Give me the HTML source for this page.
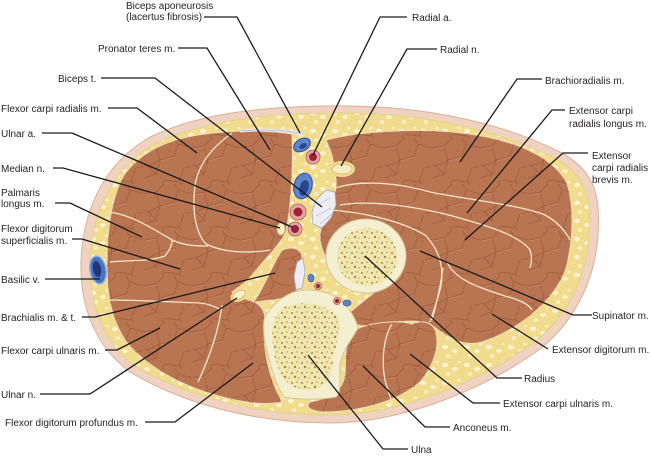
<!DOCTYPE html>
<html><head><meta charset="utf-8"><style>
html,body{margin:0;padding:0;background:#fff;}
svg{display:block;}
text{font-family:"Liberation Sans",sans-serif;font-size:10px;fill:#231f20;}
</style></head><body>
<svg width="650" height="456" viewBox="0 0 650 456" xmlns="http://www.w3.org/2000/svg">
<defs>
<pattern id="fat" width="22" height="18" patternUnits="userSpaceOnUse">
<rect width="22" height="18" fill="#f0dc8c"/>
<ellipse cx="5" cy="5" rx="3" ry="2.2" fill="#faf3d2"/>
<ellipse cx="15" cy="9" rx="2.8" ry="2" fill="#faf3d2"/>
<ellipse cx="8" cy="14" rx="2.2" ry="1.7" fill="#f8efc6"/>
<ellipse cx="19" cy="2" rx="1.8" ry="1.3" fill="#f8efc6"/>
</pattern>
<pattern id="mus" width="48" height="46" patternUnits="userSpaceOnUse">
<path d="M0 10 L12 8 L20 0 M12 8 L16 22 L4 28 L0 27 M16 22 L30 18 L34 6 L30 0 M34 6 L48 10 M30 18 L40 30 L48 28 M40 30 L35 44 L38 46 M35 44 L20 42 L18 46 M20 42 L12 36 L0 40 M12 36 L16 22 M4 28 L12 36" fill="none" stroke="#8a4a30" stroke-width="0.9" opacity="0.5"/>
<path d="M1 11 L13 9 M17 23 L31 19 M31 19 L41 31 M21 43 L13 37" fill="none" stroke="#d8997a" stroke-width="0.7" opacity="0.5"/>
</pattern>
<pattern id="mar" width="10" height="10" patternUnits="userSpaceOnUse">
<rect width="10" height="10" fill="#efe6b2"/>
<circle cx="2" cy="3" r="1.1" fill="#b89a3e"/>
<circle cx="7" cy="2" r="0.9" fill="#c9a94a"/>
<circle cx="5" cy="7" r="1.2" fill="#a98a35"/>
<circle cx="9" cy="8" r="0.8" fill="#c2a247"/>
</pattern>
</defs>

<!-- skin -->
<path d="M 325,106 C 420,104 500,122 560,152 C 598,172 600,200 598,235 C 595,282 572,330 527,358 C 482,388 404,423 330,423 C 250,423 180,402 130,372 C 92,344 80,302 81,262 C 83,202 110,160 150,137 C 200,113 262,107 325,106 Z" fill="#efd2c0" stroke="#d9b09a" stroke-width="1"/>
<!-- fat -->
<path d="M 325,113 C 418,111 496,129 554,158 C 590,177 591,203 589,235 C 586,279 565,325 521,351 C 478,380 402,415 330,415 C 252,415 184,395 135,366 C 100,339 89,300 90,262 C 92,206 117,166 154,144 C 203,121 263,114 325,113 Z" fill="url(#fat)" stroke="#e3cf86" stroke-width="0.8"/>

<!-- muscles -->
<g fill="#b97552" stroke="#f1ddb8" stroke-width="1">
<path d="M 205,134 C 235,130 268,130 292,134 C 293,165 292,200 286,232 C 280,245 262,262 248,280 L 232,292 L 248,300 C 258,302 264,308 265,318 C 262,340 266,372 282,402 C 262,406 238,402 212,394 C 178,384 147,366 129,345 C 112,324 107,296 107,265 C 107,232 111,198 124,175 C 142,150 172,138 205,134 Z"/>
<path d="M 326,140 C 360,131 420,128 462,133 C 512,139 552,155 567,183 C 576,212 572,255 562,278 C 548,305 518,330 482,342 C 462,348 445,335 430,324 C 418,320 405,321 395,322 C 380,324 370,328 358,325 C 348,323 342,322 340,321 C 350,312 362,302 375,292 L 340,270 C 326,262 320,250 320,235 C 322,218 330,205 334,195 C 338,185 336,172 333,160 C 331,150 328,145 326,140 Z"/>
<path d="M 357,329 C 372,322 398,320 412,324 C 424,319 434,323 436,333 C 440,348 432,368 420,382 C 402,398 370,410 330,412 C 312,412 304,408 310,402 C 330,398 342,392 345,375 L 346,350 C 348,340 352,334 357,329 Z"/>
<path d="M 282,250 C 292,246 300,248 302,256 L 300,286 C 296,294 286,298 274,300 C 266,300 260,302 254,302 C 262,290 270,272 276,260 Z"/>
</g>
<g fill="url(#mus)">
<path d="M 205,134 C 235,130 268,130 292,134 C 293,165 292,200 286,232 C 280,245 262,262 248,280 L 232,292 L 248,300 C 258,302 264,308 265,318 C 262,340 266,372 282,402 C 262,406 238,402 212,394 C 178,384 147,366 129,345 C 112,324 107,296 107,265 C 107,232 111,198 124,175 C 142,150 172,138 205,134 Z"/>
<path d="M 326,140 C 360,131 420,128 462,133 C 512,139 552,155 567,183 C 576,212 572,255 562,278 C 548,305 518,330 482,342 C 462,348 445,335 430,324 C 418,320 405,321 395,322 C 380,324 370,328 358,325 C 348,323 342,322 340,321 C 350,312 362,302 375,292 L 340,270 C 326,262 320,250 320,235 C 322,218 330,205 334,195 C 338,185 336,172 333,160 C 331,150 328,145 326,140 Z"/>
<path d="M 357,329 C 372,322 398,320 412,324 C 424,319 434,323 436,333 C 440,348 432,368 420,382 C 402,398 370,410 330,412 C 312,412 304,408 310,402 C 330,398 342,392 345,375 L 346,350 C 348,340 352,334 357,329 Z"/>
<path d="M 282,250 C 292,246 300,248 302,256 L 300,286 C 296,294 286,298 274,300 C 266,300 260,302 254,302 C 262,290 270,272 276,260 Z"/>
</g>

<!-- muscle separation lines -->
<g fill="none" stroke="#f4e6c6" stroke-width="1.3">
<path d="M 232,133 C 214,146 199,162 195,185 C 192,210 195,232 206,244 C 222,252 245,254 270,250"/>
<path d="M 108,212 C 130,214 152,228 172,240 C 185,246 198,246 208,246"/>
<path d="M 110,262 C 128,260 148,262 165,256 C 170,250 172,244 172,240"/>
<path d="M 110,300 C 135,300 170,302 200,303 C 210,304 215,307 222,310"/>
<path d="M 222,305 C 219,328 212,352 198,382"/>
<path d="M 335,188 C 360,180 395,182 430,192 C 470,200 520,205 545,215 C 558,222 566,232 570,240"/>
<path d="M 340,205 C 370,200 410,206 445,214 C 490,226 520,236 530,250 C 532,256 532,262 530,268"/>
<path d="M 330,210 C 360,212 400,220 425,235 C 440,250 445,270 440,290 C 436,305 432,315 430,322"/>
<path d="M 447,262 C 455,280 480,288 505,296 C 520,300 528,304 532,310"/>
<path d="M 443,268 C 440,290 436,305 432,320"/>
<path d="M 392,324 C 382,340 382,365 385,380 C 388,392 392,400 392,405"/>
</g>

<!-- aponeurosis -->
<path d="M 240,131 C 260,129 285,130 304,134" fill="none" stroke="#e6e6ee" stroke-width="3"/>
<path d="M 240,131 C 260,129 285,130 304,134" fill="none" stroke="#a8a8b6" stroke-width="0.6"/>

<!-- fat pockets -->
<ellipse cx="342" cy="169" rx="13" ry="8" fill="#f0dc8c"/>
<ellipse cx="240" cy="295" rx="10" ry="6" transform="rotate(-25 240 295)" fill="#f0dc8c"/>

<!-- bones -->
<ellipse cx="366" cy="256" rx="40" ry="37" fill="#f4efd0" stroke="#d3c795" stroke-width="1"/>
<ellipse cx="367" cy="257" rx="30" ry="29" fill="url(#mar)"/>
<path d="M 297,291 C 312,288 328,292 338,298 C 348,306 356,318 358,328 C 352,340 342,350 340,365 C 339,380 342,392 336,397 C 320,400 300,400 284,397 C 276,385 272,370 268,355 C 264,340 262,325 265,316 C 272,305 285,294 297,291 Z" fill="#f4efd0" stroke="#d3c795" stroke-width="1"/>
<path d="M 290,305 C 310,300 330,306 338,318 C 342,332 335,345 333,360 C 332,375 328,388 310,390 C 292,390 280,380 276,362 C 272,345 270,330 275,318 C 279,310 284,306 290,305 Z" fill="url(#mar)"/>

<!-- tendons -->
<polygon points="316,200 326,190 335,192 336,205 331,218 322,228 313,224 312,212" fill="#ececf1" stroke="#a7a7b6" stroke-width="0.8"/>
<path d="M318,205 L330,198 M316,216 L331,208 M320,224 L332,214" stroke="#b9b9c6" stroke-width="0.7" fill="none"/>
<polygon points="297,262 303,258 305,272 302,288 296,290 294,276" fill="#ececf1" stroke="#a7a7b6" stroke-width="0.8"/>

<!-- nerves -->
<ellipse cx="342" cy="169" rx="10" ry="5" fill="#f6efc6" stroke="#cdbb72" stroke-width="0.8"/>
<ellipse cx="281" cy="229" rx="4" ry="6" fill="#f6efc6" stroke="#cdbb72" stroke-width="0.8"/>
<ellipse cx="239" cy="295" rx="7" ry="4" transform="rotate(-30 239 295)" fill="#f6efc6" stroke="#cdbb72" stroke-width="0.8"/>

<!-- veins -->
<g>
<ellipse cx="302" cy="145" rx="9" ry="6" transform="rotate(-30 302 145)" fill="#5b84cc" stroke="#2f4f99" stroke-width="1"/>
<ellipse cx="303" cy="146" rx="4" ry="2.5" transform="rotate(-30 303 146)" fill="#2a4590"/>
<ellipse cx="303" cy="186" rx="9" ry="13" transform="rotate(15 303 186)" fill="#5b84cc" stroke="#2f4f99" stroke-width="1"/>
<ellipse cx="304" cy="188" rx="4.5" ry="8" transform="rotate(15 304 188)" fill="#2a4590"/>
<ellipse cx="311" cy="278" rx="3" ry="4" fill="#5b84cc" stroke="#2f4f99" stroke-width="0.6"/>
<ellipse cx="347" cy="303" rx="4" ry="3" fill="#5b84cc" stroke="#2f4f99" stroke-width="0.6"/>
<ellipse cx="98" cy="270" rx="8" ry="14" transform="rotate(-10 98 270)" fill="#4a72c2" stroke="#8fb0e4" stroke-width="1.5"/>
<ellipse cx="97" cy="269" rx="4" ry="8" transform="rotate(-10 97 269)" fill="#1f367c"/>
</g>
<!-- arteries -->
<g stroke="#b35a5a" stroke-width="0.8">
<circle cx="313" cy="157" r="7" fill="#e3a6a6"/>
<circle cx="313" cy="157" r="4" fill="#9b2430" stroke="none"/>
<circle cx="298" cy="212" r="8" fill="#e3a6a6"/>
<circle cx="298" cy="212" r="4.5" fill="#9b2430" stroke="none"/>
<circle cx="295" cy="229" r="7" fill="#e3a6a6"/>
<circle cx="295" cy="229" r="4" fill="#9b2430" stroke="none"/>
<circle cx="318" cy="286" r="3.5" fill="#e3a6a6"/>
<circle cx="318" cy="286" r="2" fill="#9b2430" stroke="none"/>
<circle cx="337" cy="301" r="3.5" fill="#e3a6a6"/>
<circle cx="337" cy="301" r="2" fill="#9b2430" stroke="none"/>
</g>

<!-- leader lines -->
<g fill="none" stroke="#1a1a1a" stroke-width="1.3">
<polyline points="204,17 237,17 300,133"/>
<polyline points="178,48 207,48 270,150"/>
<polyline points="101,78 155,78 322,207"/>
<polyline points="108,108 137,108 197,153"/>
<polyline points="42,133 72,133 292,227"/>
<polyline points="53,168 63,168 280,228"/>
<polyline points="55,203 70,203 142,237"/>
<polyline points="72,239 82,239 180,269"/>
<polyline points="45,279 100,279"/>
<polyline points="82,317 95,317 275,273"/>
<polyline points="105,350 117,350 160,328"/>
<polyline points="40,394 90,394 237,298"/>
<polyline points="145,422 175,422 253,363"/>
<polyline points="407,17 380,17 313,155"/>
<polyline points="437,49 407,49 341,166"/>
<polyline points="542,79 517,79 460,162"/>
<polyline points="565,110 552,110 467,213"/>
<polyline points="588,153 563,153 465,240"/>
<polyline points="592,315 573,315 420,251"/>
<polyline points="548,349 492,314"/>
<polyline points="522,378 497,378 365,256"/>
<polyline points="500,403 473,403 410,354"/>
<polyline points="450,427 425,427 363,366"/>
<polyline points="408,449 383,449 308,355"/>
</g>

<!-- labels -->
<text x="126" y="9">Biceps aponeurosis</text>
<text x="126" y="20">(lacertus fibrosis)</text>
<text x="98" y="52">Pronator teres m.</text>
<text x="58" y="82">Biceps t.</text>
<text x="1" y="112">Flexor carpi radialis m.</text>
<text x="1" y="137">Ulnar a.</text>
<text x="1" y="172">Median n.</text>
<text x="1" y="196">Palmaris</text>
<text x="1" y="207">longus m.</text>
<text x="1" y="232">Flexor digitorum</text>
<text x="1" y="244">superficialis m.</text>
<text x="1" y="283">Basilic v.</text>
<text x="1" y="321">Brachialis m. &amp; t.</text>
<text x="1" y="354">Flexor carpi ulnaris m.</text>
<text x="1" y="398">Ulnar n.</text>
<text x="5" y="426">Flexor digitorum profundus m.</text>
<text x="412" y="21">Radial a.</text>
<text x="440" y="53">Radial n.</text>
<text x="545" y="84">Brachioradialis m.</text>
<text x="569" y="114">Extensor carpi</text>
<text x="569" y="127">radialis longus m.</text>
<text x="592" y="159">Extensor</text>
<text x="592" y="171">carpi radialis</text>
<text x="592" y="183">brevis m.</text>
<text x="592" y="319">Supinator m.</text>
<text x="552" y="353">Extensor digitorum m.</text>
<text x="524" y="382">Radius</text>
<text x="503" y="407">Extensor carpi ulnaris m.</text>
<text x="453" y="431">Anconeus m.</text>
<text x="411" y="453">Ulna</text>
</svg>
</body></html>
